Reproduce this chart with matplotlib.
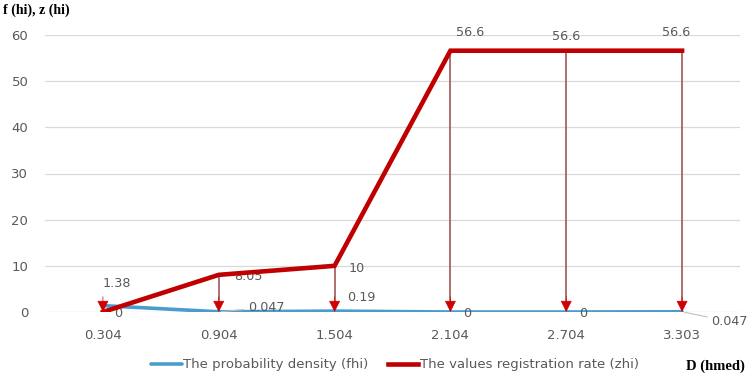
import matplotlib.pyplot as plt

# data
categories = ['0.304', '0.904', '1.504', '2.104', '2.704', '3.303']
fhi = [1.38, 0.047, 0.19, 0, 0, 0.047]
zhi = [0, 8.05, 10, 56.6, 56.6, 56.6]
fhi_labels = ['1.38', '0.047', '0.19', '0', '0', '0.047']
zhi_labels = ['0', '8.05', '10', '56.6', '56.6', '56.6']

blue = '#4a9ccb'
red = '#c00000'
grey = '#595959'

fig = plt.figure(figsize=(7.54, 3.78), dpi=100)
ax = fig.add_axes([45/754, 66/378, 695/754, 277/378])

x = list(range(len(categories)))

# drop lines from the top of both series down to the axis, red arrow head at the foot
tops = [max(f, z) for f, z in zip(fhi, zhi)]
ax.vlines(x, 0, tops, color='#9e4646', lw=1.1, zorder=2)
for i in x:
    ax.annotate('', xy=(i, 0), xytext=(0, 11), textcoords='offset points',
                arrowprops=dict(arrowstyle='-|>', color='#d00000', lw=0.5,
                                mutation_scale=18, shrinkA=0, shrinkB=0),
                zorder=5)

ax.plot(x, fhi, color=blue, lw=2.6, solid_capstyle='round', zorder=3,
        label='The probability density (fhi)')
ax.plot(x, zhi, color=red, lw=3.3, solid_joinstyle='miter', zorder=4,
        label='The values registration rate (zhi)')

# data labels
fs = 9.2
def lab(text, xy, off, ha='left', va='center', leader=False):
    kw = dict(textcoords='offset points', ha=ha, va=va, color=grey, fontsize=fs)
    if leader:
        kw['arrowprops'] = dict(arrowstyle='-', color='#bfbfbf', lw=0.8, shrinkA=1, shrinkB=2)
    ax.annotate(text, xy, xytext=off, **kw)

lab(fhi_labels[0], (0, fhi[0]), (0, 16))
lab(zhi_labels[0], (0, zhi[0]), (11, -1), ha='center')
lab(zhi_labels[1], (1, zhi[1]), (11, -1))
lab(fhi_labels[1], (1, fhi[1]), (21, 3), leader=True)
lab(zhi_labels[2], (2, zhi[2]), (10, -2))
lab(fhi_labels[2], (2, fhi[2]), (9, 10))
for i in (3, 4):
    lab(fhi_labels[i], (i, fhi[i]), (12, -1), ha='center')
lab(zhi_labels[3], (3, zhi[3]), (4, 13))
lab(zhi_labels[4], (4, zhi[4]), (0, 10), ha='center')
lab(zhi_labels[5], (5, zhi[5]), (-4, 13), ha='center')
lab(fhi_labels[5], (5, fhi[5]), (21, -7), leader=True)

ax.set_xlim(-0.5, len(categories) - 0.5)
ax.set_ylim(0, 60)
ax.set_yticks(range(0, 61, 10))
ax.set_xticks(x)
ax.set_xticklabels(categories)
ax.tick_params(axis='both', length=0, colors=grey, labelsize=9.5)
ax.tick_params(axis='x', pad=12)
ax.tick_params(axis='y', pad=12)
ax.grid(axis='y', color='#d9d9d9', lw=0.9)
ax.set_axisbelow(True)
for s in ax.spines.values():
    s.set_visible(False)

leg = fig.legend(loc='center', bbox_to_anchor=(0.524, 0.035), ncol=2, frameon=False,
                 fontsize=9.5, handlelength=2.3, handletextpad=0.1, columnspacing=1.5)
for t in leg.get_texts():
    t.set_color(grey)

fig.text(0.004, 0.972, 'f (hi), z (hi)', family='Liberation Serif', weight='bold',
         fontsize=10, va='center', ha='left')
fig.text(0.988, 0.03, 'D (hmed)', family='Liberation Serif', weight='bold',
         fontsize=10.5, va='center', ha='right')

fig.savefig('out.png', dpi=100)
